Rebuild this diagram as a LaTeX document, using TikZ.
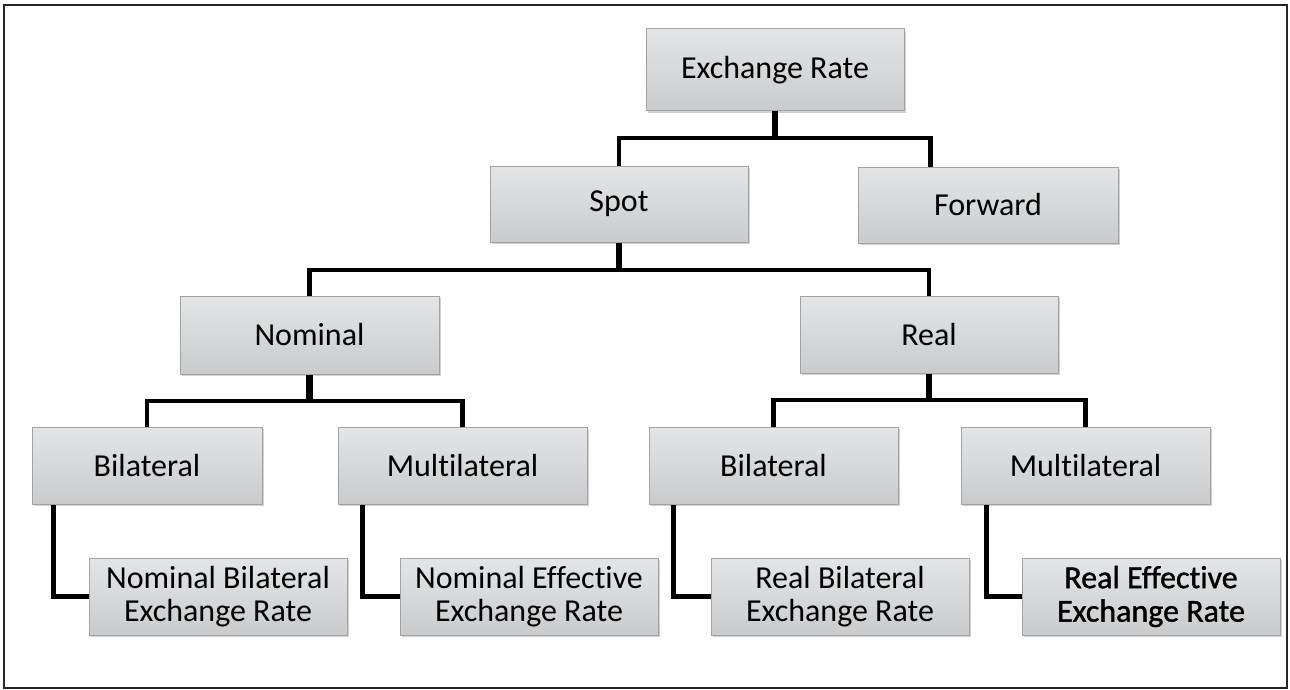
\documentclass[tikz,border=0pt]{standalone}
\usepackage{fontspec}
\setmainfont{Carlito}[Ligatures=NoCommon]
\newfontfamily\boldish{Carlito}[FakeBold=1.2,Ligatures=NoCommon]
\usetikzlibrary{shadows,calc}
\definecolor{boxtop}{HTML}{E4E5E7}
\definecolor{boxbot}{HTML}{CACBCD}
\definecolor{boxborder}{HTML}{A3A3A3}
\tikzset{
  box/.style={draw=boxborder, line width=1pt, top color=boxtop, bottom color=boxbot,
    drop shadow={shadow xshift=1.5pt, shadow yshift=-2pt, opacity=0.3, fill=black!60},
    inner sep=0pt, align=center, text=black,
    font=\fontsize{32}{33.5}\selectfont},
  conn/.style={line width=4.6pt, line join=miter, draw=black},
  stub/.style={line width=6.5pt, draw=black},
}
\begin{document}
\begin{tikzpicture}[x=1pt,y=-1pt]
\useasboundingbox (0,0) rectangle (1290,690);
\draw[line width=1.5pt, black!85] (4,5) rectangle (1287,688);

% level 0-1
\node[box, minimum width=258pt, minimum height=82pt] (er) at (775,70) {Exchange Rate};
\node[box, minimum width=258pt, minimum height=76pt] (spot) at (619,204) {Spot};
\node[box, minimum width=260pt, minimum height=76pt] (fwd) at (988,205) {Forward};
% level 2
\node[box, minimum width=259pt, minimum height=78pt] (nom) at (309.5,335) {Nominal};
\node[box, minimum width=258pt, minimum height=77pt] (real) at (929,334.5) {Real};
% level 3
\node[box, minimum width=230pt, minimum height=77pt] (bl) at (147,465.5) {Bilateral};
\node[box, minimum width=249pt, minimum height=77pt] (ml) at (462.5,465.5) {Multilateral};
\node[box, minimum width=249pt, minimum height=77pt] (rbl) at (773.5,465.5) {Bilateral};
\node[box, minimum width=249pt, minimum height=77pt] (rml) at (1085.5,465.5) {Multilateral};
% level 4
\node[box, minimum width=258pt, minimum height=77pt] (nber) at (218,596.5) {Nominal Bilateral\\Exchange Rate};
\node[box, minimum width=258pt, minimum height=77pt] (neer) at (529,596.5) {Nominal Effective\\Exchange Rate};
\node[box, minimum width=258pt, minimum height=77pt] (rber) at (840,596.5) {Real Bilateral\\Exchange Rate};
\node[box, minimum width=258pt, minimum height=77pt] (reer) at (1151,596.5) {\boldish Real Effective\\\boldish Exchange Rate};

% junctions
\coordinate (j0) at (775,138);
\coordinate (fwdtop) at ([xshift=73pt]fwd.north west);
\coordinate (j1) at (619,270);
\coordinate (j2) at (309.5,401);
\coordinate (j3) at (929,400);

\draw[stub] (er.south) -- (j0);
\draw[conn] (spot.north) |- (j0) -| (fwdtop);

\draw[stub] (spot.south) -- (j1);
\draw[conn] (nom.north) |- (j1) -| (real.north);

\draw[stub] (nom.south) -- (j2);
\draw[conn] (bl.north) |- (j2) -| (ml.north);

\draw[stub] (real.south) -- (j3);
\draw[conn] (rbl.north) |- (j3) -| (rml.north);

\coordinate (c1) at ([xshift=-35pt]nber.west);
\coordinate (c2) at ([xshift=-37pt]neer.west);
\coordinate (c3) at ([xshift=-37pt]rber.west);
\coordinate (c4) at ([xshift=-35pt]reer.west);
\draw[conn] (nber.west) -| (c1 |- bl.south);
\draw[conn] (neer.west) -| (c2 |- ml.south);
\draw[conn] (rber.west) -| (c3 |- rbl.south);
\draw[conn] (reer.west) -| (c4 |- rml.south);
\end{tikzpicture}
\end{document}
